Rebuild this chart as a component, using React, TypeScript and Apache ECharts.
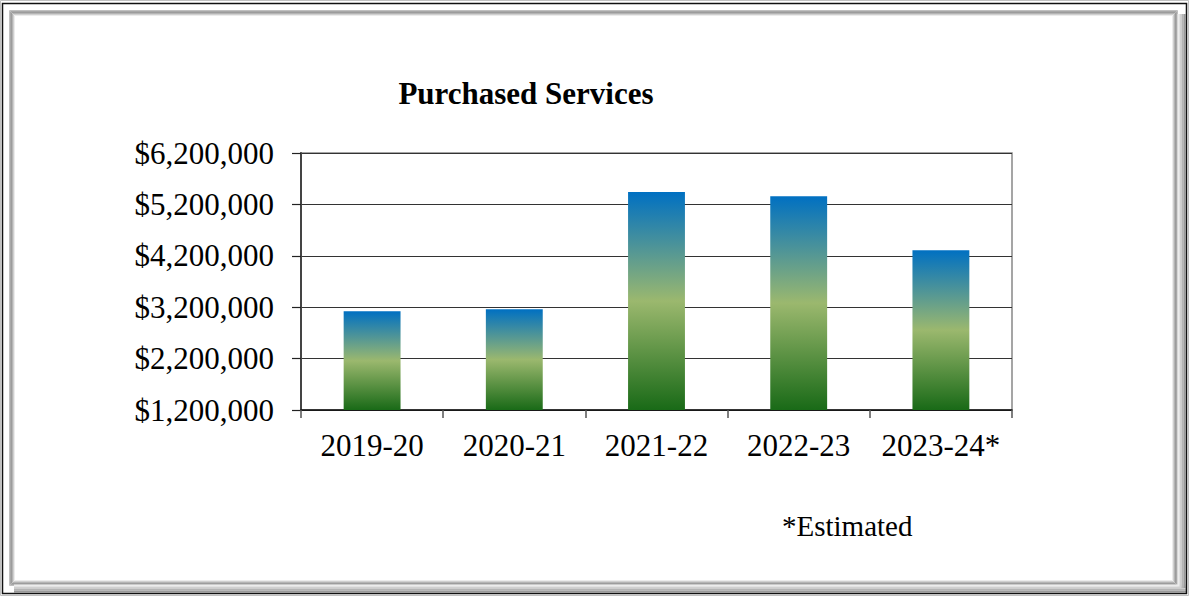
import React, { useEffect, useRef } from "react";
import * as echarts from "echarts";

const categories = ["2019-20", "2020-21", "2021-22", "2022-23", "2023-24*"];
const values = [3120000, 3160000, 5440000, 5360000, 4310000];
const yMin = 1200000;
const yMax = 6200000;
const yStep = 1000000;
const titleText = "Purchased Services";
const noteText = "*Estimated";

const FONT = "'Liberation Serif', 'Times New Roman', serif";

export default function App() {
  const ref = useRef<HTMLDivElement>(null);
  useEffect(() => {
    const chart = echarts.init(ref.current!, null, { renderer: "svg" });
    const frame: any[] = [];
    const innerGrays = ["#c0c0c0", "#a8a8a8", "#9c9c9c", "#b4b4b4", "#d0d0d0", "#ececec"];
    innerGrays.forEach((c, i) => {
      frame.push({
        type: "rect",
        silent: true,
        shape: { x: 9.5 + i, y: 10.5 + i, width: 1168 - 2 * i, height: 575 - 2 * i },
        style: { fill: "none", stroke: c, lineWidth: 1 },
      });
    });
    const outerShade = ["#ececec", "#d0d0d0", "#b4b4b4", "#999999"];
    outerShade.forEach((c, i) => {
      frame.push({
        type: "line",
        silent: true,
        shape: { x1: 1178.5 + 2 * i, y1: 14, x2: 1178.5 + 2 * i, y2: 588 },
        style: { stroke: c, lineWidth: 2 },
      });
      frame.push({
        type: "line",
        silent: true,
        shape: { x1: 14, y1: 585.5 + 2 * i, x2: 1186, y2: 585.5 + 2 * i },
        style: { stroke: c, lineWidth: 2 },
      });
    });
    frame.push({
      type: "rect",
      silent: true,
      shape: { x: 2.5, y: 3.5, width: 1184, height: 590 },
      style: { fill: "none", stroke: "#111111", lineWidth: 1.5 },
    });
    frame.push({
      type: "rect",
      silent: true,
      shape: { x: 0.5, y: 0.5, width: 1188, height: 595 },
      style: { fill: "none", stroke: "#c0c0c0", lineWidth: 1 },
    });
    frame.push({
      type: "text",
      left: 782,
      top: 511,
      style: { text: noteText, font: `29px ${FONT}`, fill: "#000" },
    });

    chart.setOption({
      animation: false,
      backgroundColor: "#ffffff",
      title: {
        text: titleText,
        left: 521,
        top: 73,
        textAlign: "center",
        textStyle: { fontFamily: FONT, fontSize: 31, fontWeight: "bold", color: "#000" },
      },
      grid: {
        left: 301,
        top: 153,
        right: 177,
        bottom: 186,
        show: true,
        borderColor: "#888888",
        borderWidth: 1.5,
        containLabel: false,
      },
      xAxis: {
        type: "category",
        data: categories,
        boundaryGap: true,
        axisLine: { lineStyle: { color: "#111", width: 1.5 } },
        axisTick: { show: true, length: 8, lineStyle: { color: "#555", width: 1.5 } },
        axisLabel: {
          interval: 0,
          hideOverlap: false,
          fontFamily: FONT,
          fontSize: 31,
          color: "#000",
          margin: 20,
        },
      },
      yAxis: {
        type: "value",
        min: yMin,
        max: yMax,
        interval: yStep,
        axisLine: { show: true, lineStyle: { color: "#444", width: 2 } },
        axisTick: { show: true, length: 9, lineStyle: { color: "#222", width: 1.2 } },
        splitLine: { show: true, lineStyle: { color: "#333", width: 1.2 } },
        axisLabel: {
          fontFamily: FONT,
          fontSize: 31,
          color: "#000",
          margin: 27,
          formatter: (v: number) => "$" + v.toLocaleString("en-US"),
        },
      },
      series: [
        {
          type: "bar",
          data: values,
          barWidth: "40%",
          itemStyle: {
            color: new echarts.graphic.LinearGradient(0, 0, 0, 1, [
              { offset: 0, color: "#0070C2" },
              { offset: 0.5, color: "#9BB86E" },
              { offset: 1, color: "#196A17" },
            ]),
          },
        },
      ],
      graphic: frame,
    });
    return () => chart.dispose();
  }, []);
  return (
    <div
      ref={ref}
      style={{ position: "absolute", left: 0, top: 0, width: 1189, height: 596 }}
    />
  );
}
